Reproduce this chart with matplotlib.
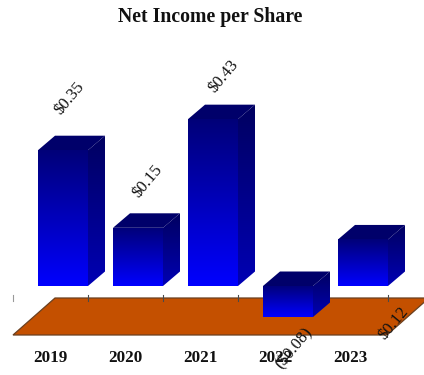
import numpy as np
import matplotlib
matplotlib.use("Agg")
import matplotlib.pyplot as plt
from matplotlib.colors import LinearSegmentedColormap
from matplotlib.patches import Polygon

# Chart content
years = ["2019", "2020", "2021", "2022", "2023"]
net_income = [0.35, 0.15, 0.43, -0.08, 0.12]
value_labels = ["$0.35", "$0.15", "$0.43", "($0.08)", "$0.12"]
title = "Net Income per Share"

# Layout in pixels: one category is 75 px wide, one dollar is 388 px tall
W, H = 424, 375
CAT_PX, USD_PX = 75.0, 388.0
X0_PX, Y0_PX = 63.0, 286.0
BAR_W = 50 / CAT_PX
DX, DY = 17 / CAT_PX, 14.5 / USD_PX

fig = plt.figure(figsize=(W / 100, H / 100), dpi=100)
ax = fig.add_axes([0, 0, 1, 1])
ax.axis("off")
xlim = (-X0_PX / CAT_PX, (W - X0_PX) / CAT_PX)
ylim = (-(H - Y0_PX) / USD_PX, Y0_PX / USD_PX)

# Floor plane with its tick marks on the back edge
fl, fr = -50 / CAT_PX, 324 / CAT_PX
f_front, f_back = -49 / USD_PX, -12 / USD_PX
shift = 42 / CAT_PX
ax.add_patch(Polygon([(fl, f_front), (fr, f_front), (fr + shift, f_back), (fl + shift, f_back)],
                     closed=True, facecolor="#C45000", edgecolor="#6a4020", lw=0.9, zorder=1))
tick_half = 3 / USD_PX
for k in range(len(years) + 1):
    tx = fl + k
    ax.plot([tx, tx], [f_back - tick_half, f_back + tick_half],
            color="#999999" if k == 0 else "#4a4a4a", lw=0.8, zorder=2)

front_cmap = LinearSegmentedColormap.from_list("front", ["#000078", "#0000FF"])
side_cmap = LinearSegmentedColormap.from_list("side", ["#000060", "#0000B4"])
ramp = np.linspace(0, 1, 256).reshape(-1, 1)


def shaded_face(verts, cmap, z):
    """Fill a polygon with a vertical colour ramp."""
    xs, ys = zip(*verts)
    im = ax.imshow(ramp, cmap=cmap, aspect="auto", origin="upper", vmin=0, vmax=1,
                   extent=(min(xs), max(xs), min(ys), max(ys)), zorder=z)
    im.set_clip_path(Polygon(verts, closed=True, transform=ax.transData))


# 3-D bars: side, top and front faces
for i, v in enumerate(net_income):
    l, r = i - BAR_W / 2, i + BAR_W / 2
    top, bot = max(v, 0), min(v, 0)
    z = 3 + i
    shaded_face([(r, bot), (r + DX, bot + DY), (r + DX, top + DY), (r, top)], side_cmap, z)
    ax.add_patch(Polygon([(l, top), (r, top), (r + DX, top + DY), (l + DX, top + DY)],
                         closed=True, facecolor="#00006A", edgecolor="none", zorder=z))
    shaded_face([(l, bot), (r, bot), (r, top), (l, top)], front_cmap, z)

# Value labels sit at hand-tuned offsets from each bar's top, in pixels
label_offsets = [(6, -52), (10, -46), (10, -43), (6, 62), (30, 84)]
for i, (v, text, (ox, oy)) in enumerate(zip(net_income, value_labels, label_offsets)):
    anchor = max(v, 0)
    ax.annotate(text, xy=(i, anchor), xytext=(ox * 0.72, -oy * 0.72), textcoords="offset points",
                rotation=50, rotation_mode="anchor", ha="center", va="center",
                family="Liberation Serif", fontsize=12, color="#111111", zorder=10)

# Category labels under the floor
for i, year in enumerate(years):
    ax.text(i - 13 / CAT_PX, -(358 - Y0_PX) / USD_PX, year, ha="center", va="center",
            family="Liberation Serif", fontweight="bold", fontsize=12.3, color="#111111", zorder=9)

ax.text((210 - X0_PX) / CAT_PX, (Y0_PX - 17) / USD_PX, title, ha="center", va="center",
        family="Liberation Serif", fontweight="bold", fontsize=14.2, color="#111111")

ax.set_xlim(xlim)
ax.set_ylim(ylim)
fig.savefig("out.png", dpi=100)
